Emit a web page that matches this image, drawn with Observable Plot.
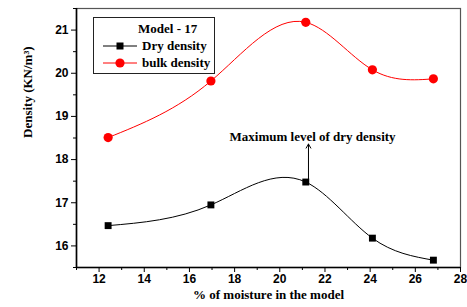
<!DOCTYPE html>
<html>
<head>
<meta charset="utf-8">
<script src="https://cdn.jsdelivr.net/npm/d3@7"></script>
<script src="https://cdn.jsdelivr.net/npm/@observablehq/plot@0.6"></script>
<style>
  html, body { margin: 0; padding: 0; background: #fff; }
  #wrap { position: relative; width: 467px; height: 307px; }
  #legend { position: absolute; left: 93px; top: 17px; width: 120px; height: 55px;
    border: 1.2px solid #222; background: #fff; font-family: "Liberation Serif", serif; font-weight: bold; font-size: 13px; }
  #legend .row { position: absolute; left: 0; display: flex; align-items: center; white-space: nowrap; }
</style>
</head>
<body>
<div id="wrap"></div>
<script>
const moisture = [12.4, 16.95, 21.15, 24.1, 26.8];
const dryDensity = [16.47, 16.95, 17.48, 16.18, 15.67];
const bulkDensity = [18.51, 19.82, 21.18, 20.08, 19.87];
const xTicks = [12, 14, 16, 18, 20, 22, 24, 26, 28];
const xMinor = [11, 13, 15, 17, 19, 21, 23, 25, 27];
const yTicks = [16, 17, 18, 19, 20, 21];
const yMinor = [15.5, 16.5, 17.5, 18.5, 19.5, 20.5, 21.5];
const legendTitle = "Model - 17";
const seriesNames = ["Dry density", "bulk density"];
const annotation = "Maximum level of dry density";

const dry = moisture.map((m, i) => ({x: m, y: dryDensity[i]}));
const bulk = moisture.map((m, i) => ({x: m, y: bulkDensity[i]}));

// Custom curve: natural cubic spline of y as a function of x (like Origin's spline connector)
function splineX(context) {
  let pts;
  return {
    areaStart() {}, areaEnd() {},
    lineStart() { pts = []; },
    point(x, y) { pts.push([+x, +y]); },
    lineEnd() {
      const n = pts.length;
      if (!n) return;
      context.moveTo(pts[0][0], pts[0][1]);
      if (n < 3) { for (let i = 1; i < n; i++) context.lineTo(pts[i][0], pts[i][1]); return; }
      const h = [], M = new Array(n).fill(0);
      for (let i = 0; i < n - 1; i++) h.push(pts[i + 1][0] - pts[i][0]);
      const m = n - 2, a = [], b = [], c = [], r = [];
      for (let k = 0; k < m; k++) {
        const i = k + 1;
        a.push(h[i - 1]); b.push(2 * (h[i - 1] + h[i])); c.push(h[i]);
        r.push(6 * ((pts[i + 1][1] - pts[i][1]) / h[i] - (pts[i][1] - pts[i - 1][1]) / h[i - 1]));
      }
      for (let k = 1; k < m; k++) { const w = a[k] / b[k - 1]; b[k] -= w * c[k - 1]; r[k] -= w * r[k - 1]; }
      const sol = new Array(m);
      sol[m - 1] = r[m - 1] / b[m - 1];
      for (let k = m - 2; k >= 0; k--) sol[k] = (r[k] - c[k] * sol[k + 1]) / b[k];
      for (let k = 0; k < m; k++) M[k + 1] = sol[k];
      for (let i = 0; i < n - 1; i++) {
        const [x0, y0] = pts[i], [x1, y1] = pts[i + 1], hi = h[i];
        const s = (y1 - y0) / hi;
        const d0 = s - hi * (2 * M[i] + M[i + 1]) / 6;
        const d1 = s + hi * (M[i] + 2 * M[i + 1]) / 6;
        context.bezierCurveTo(x0 + hi / 3, y0 + d0 * hi / 3, x1 - hi / 3, y1 - d1 * hi / 3, x1, y1);
      }
    }
  };
}

const tickFont = {fontFamily: "Liberation Sans, Arial, sans-serif", fontWeight: "bold", fontSize: 12};
const serif = "Liberation Serif, Times New Roman, serif";

const chart = Plot.plot({
  width: 467,
  height: 307,
  marginLeft: 76,
  marginTop: 8,
  marginRight: 7,
  marginBottom: 40,
  style: {background: "#fff", color: "#000"},
  x: {domain: [11, 28]},
  y: {domain: [15.5, 21.5]},
  marks: [
    Plot.frame({stroke: "#555", strokeWidth: 1.2}),
    Plot.axisX({ticks: xTicks, tickSize: 5, tickPadding: 2, tickFormat: d => String(d), label: null, ...tickFont}),
    Plot.axisX({ticks: xMinor, tickSize: 3, text: null, label: null}),
    Plot.axisY({ticks: yTicks, tickSize: 5, tickPadding: 3, tickFormat: d => String(d), label: null, ...tickFont}),
    Plot.axisY({ticks: yMinor, tickSize: 3, text: null, label: null}),
    Plot.ruleX([11], {stroke: "#000", strokeWidth: 1.6}),
    Plot.ruleY([15.5], {stroke: "#000", strokeWidth: 1.6}),
    Plot.line(bulk, {x: "x", y: "y", stroke: "#ff0000", strokeWidth: 1, curve: splineX}),
    Plot.line(dry, {x: "x", y: "y", stroke: "#000", strokeWidth: 1, curve: splineX}),
    Plot.arrow([{x: 21.27, y1: 17.48, y2: 18.36}], {x1: "x", x2: "x", y1: "y1", y2: "y2", stroke: "#000", strokeWidth: 1, headLength: 7, bend: 0}),
    Plot.dot(bulk, {x: "x", y: "y", fill: "#ff0000", r: 4.6}),
    Plot.dot(dry, {x: "x", y: "y", fill: "#000", symbol: "square", r: 3.9}),
    Plot.text([annotation], {x: 21.45, y: 18.52, fontFamily: serif, fontWeight: "bold", fontSize: 13, fill: "#000"}),
    Plot.text(["% of moisture in the model"], {frameAnchor: "bottom", dy: 31, fontFamily: serif, fontWeight: "bold", fontSize: 13, fill: "#000"}),
    Plot.text(["Density (KN/m\u00B3)"], {frameAnchor: "left", dx: -49, rotate: -90, fontFamily: serif, fontWeight: "bold", fontSize: 13, fill: "#000"})
  ]
});

const wrap = document.getElementById("wrap");
wrap.appendChild(chart);

const legend = document.createElement("div");
legend.id = "legend";
legend.innerHTML = `
  <div class="row" style="top:3px; left:44px;">${legendTitle}</div>
  <div class="row" style="top:20px; left:8px;">
    <svg width="36" height="12" style="margin-right:4px"><line x1="1" y1="6" x2="35" y2="6" stroke="#000" stroke-width="1"/><rect x="14.5" y="2.5" width="7" height="7" fill="#000"/></svg>${seriesNames[0]}</div>
  <div class="row" style="top:37px; left:8px;">
    <svg width="36" height="12" style="margin-right:4px"><line x1="1" y1="6" x2="35" y2="6" stroke="#ff0000" stroke-width="1"/><circle cx="18" cy="6" r="4.6" fill="#ff0000"/></svg>${seriesNames[1]}</div>
`;
wrap.appendChild(legend);
</script>
</body>
</html>
